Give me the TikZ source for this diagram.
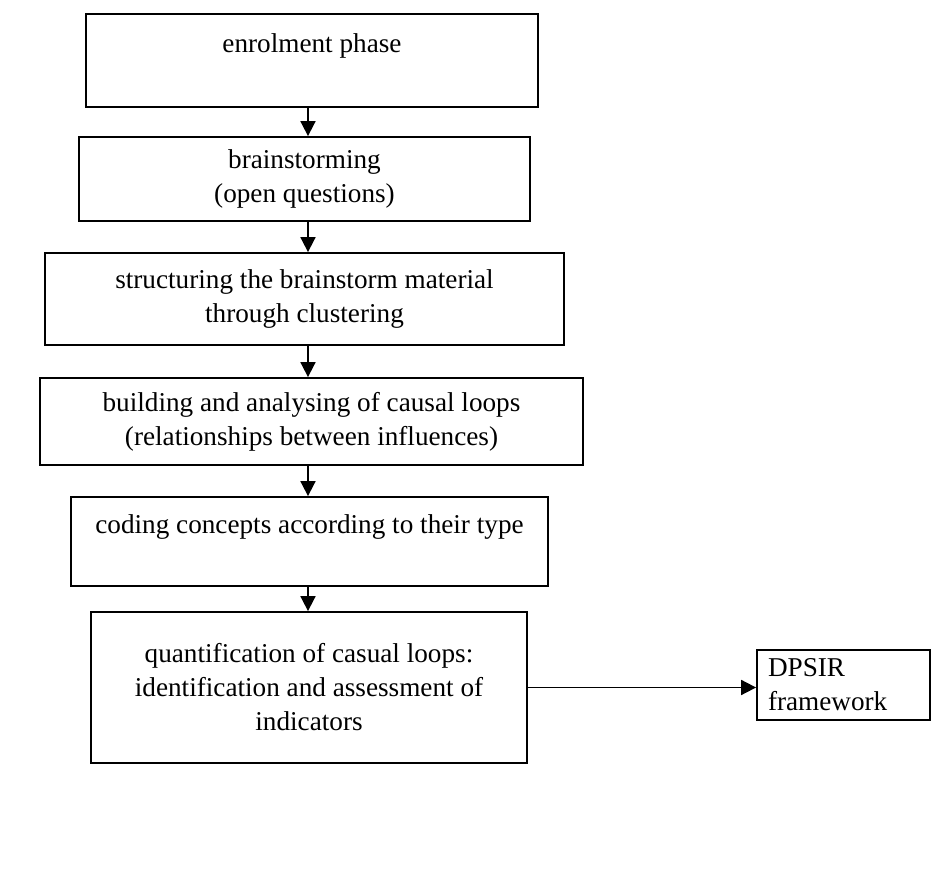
\documentclass[tikz,border=0pt]{standalone}
\usepackage{fontspec}
\setmainfont{Liberation Serif}
\usetikzlibrary{arrows.meta}
\tikzstyle{stepnode} = [draw, rectangle, line width=0.9pt, align=center, inner sep=0pt, font=\fontsize{13.6}{17}\selectfont]
\tikzstyle{outnode} = [draw, rectangle, line width=0.9pt, align=left, inner xsep=5.5pt, inner ysep=0pt, font=\fontsize{13.6}{17}\selectfont]

\begin{document}
\begin{tikzpicture}[x=0.5pt, y=-0.5pt, >={Triangle[width=7.5pt,length=7.5pt]}, line width=0.9pt]
  \useasboundingbox (0,0) rectangle (944,877);
  \coordinate (axis) at (308,0);

  \node[stepnode, minimum width=226pt, minimum height=46.5pt] (enrol) at (312,60.5) {enrolment phase\\ \mbox{}};
  \node[stepnode, minimum width=225.5pt, minimum height=42pt] (brain) at (304.5,179) {brainstorming\\(open questions)};
  \node[stepnode, minimum width=259.5pt, minimum height=46pt] (struct) at (304.5,299) {structuring the brainstorm material\\through clustering};
  \node[stepnode, minimum width=271.5pt, minimum height=43.5pt] (loops) at (311.5,421.5) {building and analysing of causal loops\\(relationships between influences)};
  \node[stepnode, minimum width=238.5pt, minimum height=44.5pt] (coding) at (309.5,541.5) {coding concepts according to their type\\ \mbox{}};
  \node[stepnode, minimum width=218pt, minimum height=75.5pt] (quant) at (309,687.5) {quantification of casual loops:\\identification and assessment of\\indicators};
  \node[outnode, text width=75.5pt, minimum height=35pt] (dpsir) at (843.5,685) {DPSIR\\framework};

  \draw[->] (enrol.south -| axis) -- (brain.north -| axis);
  \draw[->] (brain.south -| axis) -- (struct.north -| axis);
  \draw[->] (struct.south -| axis) -- (loops.north -| axis);
  \draw[->] (loops.south -| axis) -- (coding.north -| axis);
  \draw[->] (coding.south -| axis) -- (quant.north -| axis);
  \draw[->] (quant.east) -- (quant.east -| dpsir.west);
\end{tikzpicture}
\end{document}
